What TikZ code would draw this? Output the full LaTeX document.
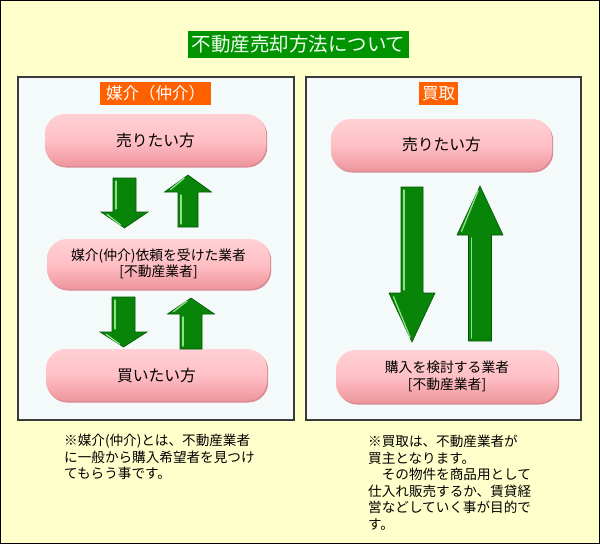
\documentclass[tikz,border=0pt]{standalone}
\usepackage{fontspec}
\setmainfont{Noto Sans CJK JP}
\definecolor{bgyellow}{HTML}{FFFFCC}
\definecolor{panelbg}{HTML}{F4FAFA}
\definecolor{panelline}{HTML}{3A3A3A}
\definecolor{titlegreen}{HTML}{009400}
\definecolor{titletext}{HTML}{F0FFF0}
\definecolor{labelorange}{HTML}{FF6000}
\definecolor{pinktop}{HTML}{FFD0D4}
\definecolor{pinkmid}{HTML}{FFC0C5}
\definecolor{pinkbot}{HTML}{EE959C}
\definecolor{pinkshadow}{HTML}{D98A92}
\definecolor{arrowgreen}{HTML}{088508}
\definecolor{arrowdark}{HTML}{035503}
\definecolor{arrowlight}{HTML}{8EE08E}
\tikzset{
  panel/.style={draw=panelline, line width=1.3pt, fill=panelbg, inner sep=0pt},
  pinkbox/.style={rounded corners=20pt, inner sep=0pt, top color=pinktop, bottom color=pinkbot, middle color=pinkmid, align=center,
    preaction={fill=pinkshadow, transform canvas={shift={(1.2pt,-1.5pt)}}},
    font=\fontsize{13.8}{16.5}\selectfont},
  bigpink/.style={pinkbox, font=\fontsize{15.8}{18}\selectfont},
  tagbox/.style={fill=labelorange, text=white, inner sep=0pt, minimum height=23pt, font=\fontsize{16.5}{18}\selectfont},
  note/.style={inner sep=0pt, align=left, anchor=north west, font=\fontsize{13.6}{16.5}\selectfont},
  arrowbody/.style={fill=arrowgreen, draw=arrowdark, line width=0.6pt, line join=miter},
  arrowhl/.style={draw=arrowlight, line width=1.3pt, line cap=round}
}
% cx, ytail, ybase, ytip, halfshaft, halfhead
\newcommand\fatarr[6]{%
  \filldraw[arrowbody] ({#1-#5},#2) -- ({#1+#5},#2) -- ({#1+#5},#3) -- ({#1+#6},#3) -- (#1,#4) -- ({#1-#6},#3) -- ({#1-#5},#3) -- cycle;
  \draw[arrowhl, shorten <=3pt, shorten >=3pt] ({#1-#5+3},#2) -- ({#1-#5+3},#3);
  \draw[arrowhl, shorten <=4pt, shorten >=5pt] ({#1-#6+3},#3) -- (#1,#4);
}
\begin{document}
\begin{tikzpicture}[x=1pt,y=-1pt]
\useasboundingbox (0,0) rectangle (600,544);
\fill[bgyellow] (0,0) rectangle (600,544);

% title
\node[fill=titlegreen, text=titletext, minimum width=221pt, minimum height=27pt, inner sep=0pt, font=\fontsize{19.5}{21}\selectfont] (title) at (298.5,44.5) {不動産売却方法について};

% panels
\node[panel, minimum width=276pt, minimum height=343pt] (lp) at (156,248.5) {};
\node[panel, minimum width=275pt, minimum height=343pt] (rp) at (443.5,248.5) {};

% labels
\node[tagbox, minimum width=111pt] (ltag) at (155.5,93.5) {媒介（仲介）};
\node[tagbox, minimum width=39pt] (rtag) at (438.5,93.5) {買取};

% left boxes
\node[bigpink, minimum width=221pt, minimum height=52pt] (ls) at (155.5,140) {売りたい方};
\node[pinkbox, minimum width=223pt, minimum height=50pt] (lm) at (158.5,264) {媒介(仲介)依頼を受けた業者\\{[}不動産業者{]}};
\node[bigpink, minimum width=221pt, minimum height=52pt] (lb) at (156.5,375) {買いたい方};

% right boxes
\node[bigpink, minimum width=221pt, minimum height=52pt] (rs) at (441.5,145) {売りたい方};
\node[pinkbox, minimum width=222pt, minimum height=53pt] (rb) at (447,376.5) {購入を検討する業者\\{[}不動産業者{]}};

% arrows
\fatarr{124.5}{178}{212}{228}{11.5}{23.5}
\fatarr{188}{227}{192}{175}{10}{23.5}
\fatarr{123.5}{297}{332}{347}{11.5}{23.5}
\fatarr{191}{349}{314}{298}{11}{23.5}
\fatarr{412}{187}{293}{342}{11}{23}
\fatarr{480}{341}{235}{186}{11.5}{23}

% notes
\node[note] (ln) at (64,434) {※媒介(仲介)とは、不動産業者\\に一般から購入希望者を見つけ\\てもらう事です。};
\node[note] (rn) at (368,435) {※買取は、不動産業者が\\買主となります。\\　その物件を商品用として\\仕入れ販売するか、賃貸経\\営などしていく事が目的で\\す。};

% outer frame
\draw[black, line width=1.4pt] (0.7,0.7) rectangle (599.3,543.3);
\end{tikzpicture}
\end{document}
